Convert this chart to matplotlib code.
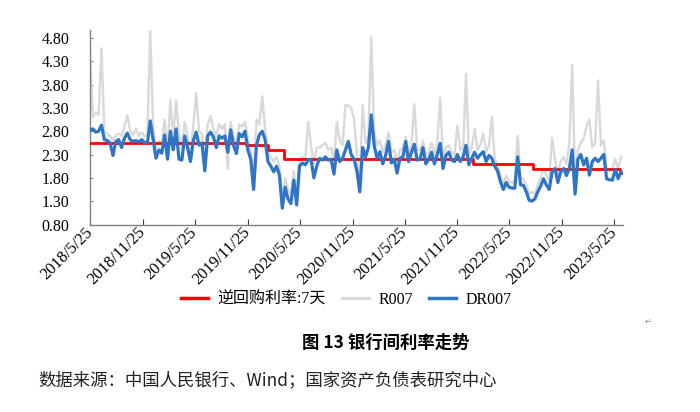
import matplotlib
matplotlib.use("Agg")
import matplotlib.pyplot as plt
import matplotlib.transforms as mtransforms
import pandas as pd

# ---------------- data ----------------
start_date = "2018-05-25"
n_points = 186
dates = pd.date_range(start_date, periods=n_points, freq="10D")

dr007 = [
    2.82, 2.85, 2.78, 2.80, 2.93, 2.62, 2.60, 2.55, 2.28, 2.58,
    2.62, 2.45, 2.65, 2.76, 2.62, 2.58, 2.60, 2.57, 2.62, 2.56,
    2.55, 3.02, 2.62, 2.22, 2.40, 2.33, 2.72, 2.20, 2.80, 2.40,
    2.85, 2.20, 2.18, 2.70, 2.45, 2.15, 2.60, 2.78, 2.50, 2.55,
    1.95, 2.70, 2.78, 2.68, 2.45, 2.70, 2.65, 2.70, 2.35, 2.83,
    2.50, 2.32, 2.75, 2.68, 2.80, 2.40, 2.20, 1.55, 2.50, 2.72,
    2.80, 2.62, 2.15, 2.05, 1.93, 2.05, 1.86, 1.15, 1.60, 1.35,
    1.25, 1.75, 1.22, 2.05, 2.12, 2.08, 2.18, 2.20, 1.80, 2.05,
    2.22, 2.18, 2.25, 2.18, 2.20, 1.88, 2.40, 2.15, 2.22, 2.40,
    2.58, 2.30, 2.20, 1.95, 1.50, 2.45, 2.25, 2.45, 3.15, 2.50,
    2.22, 2.36, 2.10, 2.28, 2.58, 2.12, 2.20, 1.90, 2.22, 2.25,
    2.58, 2.15, 2.35, 2.52, 2.18, 2.20, 2.45, 2.10, 2.20, 2.35,
    2.10, 2.30, 2.54, 2.00, 2.28, 2.35, 2.18, 2.15, 2.30, 2.15,
    2.25, 2.50, 2.08, 2.22, 2.35, 2.22, 2.30, 2.36, 2.15, 2.28,
    2.22, 2.05, 1.95, 1.72, 1.55, 1.70, 1.60, 1.58, 1.58, 2.25,
    1.65, 1.64, 1.50, 1.32, 1.30, 1.35, 1.50, 1.62, 1.78, 1.65,
    1.55, 1.93, 2.00, 1.70, 1.93, 2.00, 1.85, 2.00, 2.40, 1.45,
    2.20, 2.30, 2.08, 2.22, 1.86, 2.15, 2.22, 2.15, 2.22, 2.30,
    1.78, 1.76, 1.75, 1.98, 1.78, 1.93,
]

r007 = [
    4.45, 3.10, 3.20, 3.15, 4.58, 2.80, 2.75, 2.70, 2.60, 2.72,
    2.75, 2.70, 2.90, 3.15, 2.80, 2.72, 2.85, 2.70, 2.78, 2.68,
    2.75, 4.97, 2.90, 2.45, 2.60, 2.55, 3.05, 2.40, 3.47, 2.65,
    3.47, 2.75, 2.45, 3.00, 2.70, 2.40, 2.90, 3.62, 2.80, 2.75,
    2.30, 2.95, 3.12, 2.85, 2.70, 2.95, 2.85, 2.95, 2.00, 3.00,
    2.70, 2.55, 2.95, 2.90, 3.00, 2.65, 2.40, 1.80, 3.05, 2.95,
    3.55, 2.85, 2.35, 2.25, 2.15, 2.25, 2.05, 1.35, 1.80, 1.55,
    1.45, 1.95, 1.45, 2.20, 2.25, 2.20, 3.00, 2.50, 2.10, 2.45,
    2.45, 2.50, 2.55, 2.40, 2.45, 2.20, 3.00, 2.60, 2.50, 3.36,
    3.35, 3.30, 3.05, 2.30, 1.80, 3.36, 2.55, 2.70, 4.81, 2.80,
    2.50, 2.60, 2.35, 2.50, 2.78, 2.35, 2.40, 2.15, 2.40, 2.45,
    2.68, 2.35, 2.50, 3.38, 2.40, 2.40, 2.60, 2.30, 2.35, 2.55,
    2.30, 2.55, 3.52, 2.20, 2.45, 2.50, 2.35, 2.30, 2.92, 2.40,
    2.45, 4.03, 2.30, 2.45, 2.85, 2.40, 2.50, 2.75, 2.35, 2.50,
    3.11, 2.20, 2.10, 1.85, 1.68, 1.85, 1.72, 1.70, 1.72, 2.70,
    1.80, 1.78, 1.65, 1.45, 1.50, 1.45, 1.65, 1.80, 2.00, 1.85,
    1.75, 2.66, 2.20, 1.90, 2.15, 2.25, 2.10, 2.55, 4.22, 1.70,
    2.40, 2.55, 2.65, 2.90, 3.05, 2.45, 2.55, 3.89, 2.50, 2.60,
    2.00, 1.95, 2.00, 2.20, 2.00, 2.25,
]

policy_dates = ["2018-05-25", "2019-11-18", "2020-02-03", "2020-03-30",
                "2022-01-17", "2022-08-15", "2023-06-13", "2023-06-18"]
policy_rate = [2.55, 2.50, 2.40, 2.20, 2.10, 2.00, 1.90, 1.90]

tick_labels = ["2018/5/25", "2018/11/25", "2019/5/25", "2019/11/25", "2020/5/25",
               "2020/11/25", "2021/5/25", "2021/11/25", "2022/5/25", "2022/11/25",
               "2023/5/25"]
y_ticks = [0.80, 1.30, 1.80, 2.30, 2.80, 3.30, 3.80, 4.30, 4.80]

series_names = ["逆回购利率:7天", "R007", "DR007"]
title_text = "图 13 银行间利率走势"
source_text = "数据来源：中国人民银行、Wind；国家资产负债表研究中心"

# ---------------- figure ----------------
serif_cjk = ["Liberation Serif", "Noto Sans CJK SC", "DejaVu Sans"]
plt.rcParams["font.family"] = serif_cjk

fig = plt.figure(figsize=(7.0, 4.12), dpi=100)
ax = fig.add_axes([90 / 700, 1 - 224.5 / 412, (623 - 90) / 700, (224.5 - 30) / 412])

pdates = pd.to_datetime(policy_dates)
ax.plot(dates, r007, color="#D9D9D9", lw=1.7, zorder=2, label=series_names[1])
ax.plot(pdates, policy_rate, color="#FF0000", lw=2.0, drawstyle="steps-post",
        zorder=3, label=series_names[0])
ax.plot(dates, dr007, color="#2E75C6", lw=2.3, zorder=4, label=series_names[2])

x0 = pd.Timestamp(start_date)
ax.set_xlim(x0, x0 + pd.Timedelta(days=1857))
ax.set_ylim(0.8, 4.97)

tick_dates = pd.to_datetime([lbl.replace("/", "-") for lbl in tick_labels])
ax.set_xticks(tick_dates)
ax.set_xticklabels(tick_labels, rotation=45, ha="right", va="center",
                   rotation_mode="anchor", fontsize=11.8, family="Liberation Serif")
offset = mtransforms.ScaledTranslation(6 / 100, -4 / 100, fig.dpi_scale_trans)
for lbl in ax.get_xticklabels():
    lbl.set_transform(lbl.get_transform() + offset)
ax.set_yticks(y_ticks)
ax.set_yticklabels([f"{v:.2f}" for v in y_ticks], fontsize=11.5, family="Liberation Serif")

for s in ["top", "right"]:
    ax.spines[s].set_visible(False)
for s in ["left", "bottom"]:
    ax.spines[s].set_color("#808080")
    ax.spines[s].set_linewidth(1.0)
ax.tick_params(axis="x", direction="in", length=4, color="#404040", pad=4)
ax.tick_params(axis="y", direction="in", length=2, color="#808080", pad=15)

handles, labels = ax.get_legend_handles_labels()
order = [1, 0, 2]
leg = fig.legend([handles[i] for i in order], [labels[i] for i in order],
                 loc="center", bbox_to_anchor=(0.495, 1 - 300 / 412), ncol=3,
                 frameon=False, fontsize=11.5, handlelength=1.7, columnspacing=1.0,
                 handletextpad=0.6)
for t in leg.get_texts():
    t.set_family(serif_cjk)
for line in leg.get_lines():
    line.set_linewidth(2.5)

fig.text(386 / 700, 1 - 343 / 412, title_text, ha="center", va="center",
         fontsize=12.5, fontweight="bold", family=["Noto Sans CJK SC", "DejaVu Sans"])
fig.text(38 / 700, 1 - 380 / 412, source_text, ha="left", va="center",
         fontsize=12.5, family=["Noto Sans CJK SC", "DejaVu Sans"], color="#222222")
fig.text(648 / 700, 1 - 321 / 412, "↵", ha="center", va="center", fontsize=6,
         color="#888888", family=["DejaVu Sans"])

fig.savefig("out.png", dpi=100)
